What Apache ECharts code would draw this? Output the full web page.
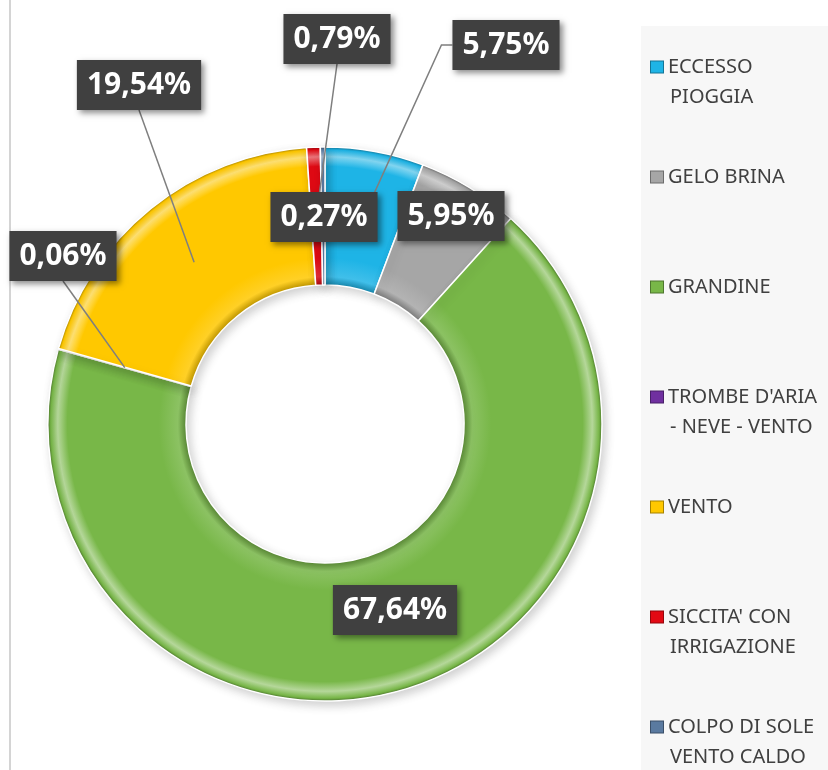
<!DOCTYPE html>
<html>
<head>
<meta charset="utf-8">
<script src="https://cdn.jsdelivr.net/npm/echarts@6/dist/echarts.min.js"></script>
<style>
  html, body { margin: 0; padding: 0; background: #ffffff; }
  #chart { width: 828px; height: 770px; }
</style>
</head>
<body>
<div id="chart"></div>
<script>
// categorie (righe della legenda) e quote percentuali
const categories = [
  'ECCESSO\nPIOGGIA',
  'GELO BRINA',
  'GRANDINE',
  "TROMBE D'ARIA\n- NEVE - VENTO",
  'VENTO',
  "SICCITA' CON\nIRRIGAZIONE",
  'COLPO DI SOLE\nVENTO CALDO'
];
const shares = [5.75, 5.95, 67.64, 0.06, 19.54, 0.79, 0.27];

// colori delle fette
const colors = ['#1eb4e6', '#a6a6a6', '#78b748', '#7030a0', '#ffc800', '#e30a14', '#5a7aa0'];
// posizione (centro) delle etichette, come nell'originale
const labelPos = [[506, 45], [451, 216], [395, 610], [63, 256], [139, 85], [337, 39], [324, 217]];
// da dove parte la linea guida: 'left' = lato sinistro, 'bottom' = lato inferiore, null = nessuna
const guideFrom = ['left', null, null, 'bottom', 'bottom', 'bottom', null];

const CX = 325, CY = 424, R_IN = 139, R_OUT = 277;

const shade = (hex, k) => {
  const n = parseInt(hex.slice(1), 16);
  const f = c => Math.max(0, Math.min(255, Math.round(k > 0 ? c + (255 - c) * k : c * (1 + k))));
  const r = f(n >> 16), g = f((n >> 8) & 255), b = f(n & 255);
  return 'rgb(' + r + ',' + g + ',' + b + ')';
};

// effetto smussato: gradiente radiale sull'anello
const ringFill = (c) => ({
  type: 'radial', x: CX, y: CY, r: R_OUT, global: true,
  colorStops: [
    { offset: R_IN / R_OUT, color: shade(c, -0.25) },
    { offset: R_IN / R_OUT + 0.03, color: shade(c, 0.15) },
    { offset: 0.6, color: c },
    { offset: 0.93, color: c },
    { offset: 0.965, color: shade(c, 0.45) },
    { offset: 0.99, color: c },
    { offset: 1, color: shade(c, -0.35) }
  ]
});

const fmtPct = v => v.toFixed(2).replace('.', ',') + '%';

// punto a metà anello, sull'angolo medio della fetta (la linea guida finisce lì)
const total = shares.reduce((a, b) => a + b, 0);
const midShare = [];
shares.reduce((acc, v) => { midShare.push(acc + v / 2); return acc + v; }, 0);
const sliceMid = i => {
  const a = midShare[i] / total * 2 * Math.PI;
  const r = (R_IN + R_OUT) / 2;
  return [CX + r * Math.sin(a), CY - r * Math.cos(a)];
};

// legenda: quadratino colorato + testo su due righe
const rich = {
  g: { width: 5, height: 13, lineHeight: 30 },
  sp: { width: 14, height: 13, lineHeight: 30 }
};
colors.forEach((c, i) => {
  rich['i' + i] = {
    width: 12, height: 11, backgroundColor: c, borderColor: shade(c, -0.35), borderWidth: 1,
    lineHeight: 30, verticalAlign: 'middle'
  };
});
const legendText = name => {
  const i = categories.indexOf(name);
  const lines = name.split('\n');
  return '{i' + i + '|}{g|}' + lines[0] + '\n{sp|}{g|}' + (lines[1] || '');
};

const chart = echarts.init(document.getElementById('chart'));

const option = {
  backgroundColor: '#ffffff',
  animation: false,
  graphic: [
    { type: 'rect', left: 641, top: 26, z: 0, shape: { width: 187, height: 744 }, style: { fill: '#f7f7f7' } },
    { type: 'line', z: 0, shape: { x1: 10, y1: 0, x2: 10, y2: 770 }, style: { stroke: '#d4d4d4', lineWidth: 2 } }
  ],
  legend: {
    orient: 'vertical',
    left: 645,
    top: 52,
    height: 740,
    padding: 0,
    itemGap: 50,
    itemWidth: 0,
    itemHeight: 0,
    icon: 'rect',
    selectedMode: false,
    data: categories,
    formatter: legendText,
    textStyle: {
      color: '#404040',
      fontSize: 20,
      lineHeight: 30,
      fontFamily: 'Noto Sans',
      rich: rich
    }
  },
  series: [
    // anello colorato
    {
      type: 'pie',
      z: 2,
      center: [CX, CY],
      radius: [R_IN, R_OUT],
      startAngle: 90,
      clockwise: true,
      label: { show: false },
      labelLine: { show: false },
      itemStyle: {
        borderColor: '#ffffff',
        borderWidth: 1.5,
        shadowColor: 'rgba(0,0,0,0.18)',
        shadowBlur: 10,
        shadowOffsetX: 3,
        shadowOffsetY: 4
      },
      data: categories.map((name, i) => ({
        name: name,
        value: shares[i],
        itemStyle: { color: ringFill(colors[i]) }
      }))
    },
    // stesse fette, trasparenti: servono solo per etichette e linee guida sopra l'anello
    {
      type: 'pie',
      z: 3,
      silent: true,
      center: [CX, CY],
      radius: [R_IN, R_OUT],
      startAngle: 90,
      clockwise: true,
      avoidLabelOverlap: false,
      itemStyle: { color: 'rgba(0,0,0,0)', borderWidth: 0 },
      label: {
        show: true,
        position: 'outside',
        formatter: p => fmtPct(p.value),
        color: '#ffffff',
        fontFamily: 'Noto Sans',
        fontWeight: 'bold',
        fontSize: 30,
        backgroundColor: '#404040',
        padding: [11, 10, 9, 10],
        shadowColor: 'rgba(0,0,0,0.45)',
        shadowBlur: 6,
        shadowOffsetX: 3,
        shadowOffsetY: 3
      },
      labelLine: {
        show: true,
        lineStyle: { color: '#7f7f7f', width: 1.5 }
      },
      labelLayout: params => {
        const i = params.dataIndex;
        const p = labelPos[i];
        const w = params.labelRect.width, h = params.labelRect.height;
        const out = { x: p[0], y: p[1], align: 'center', verticalAlign: 'middle' };
        if (guideFrom[i]) {
          const end = sliceMid(i);
          let s, m;
          if (guideFrom[i] === 'left') {
            s = [p[0] - w / 2, p[1]];
            m = [s[0] - 11, s[1]];
          } else {
            s = [p[0], p[1] + h / 2];
            m = [(s[0] + end[0]) / 2, (s[1] + end[1]) / 2];
          }
          out.labelLinePoints = [s, m, end];
        }
        return out;
      },
      data: categories.map((name, i) => ({
        name: name,
        value: shares[i],
        labelLine: { show: !!guideFrom[i] }
      }))
    }
  ]
};

chart.setOption(option);
</script>
</body>
</html>
